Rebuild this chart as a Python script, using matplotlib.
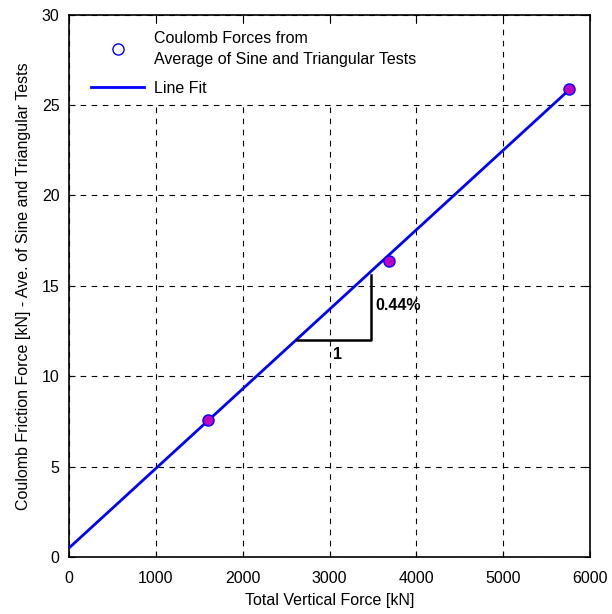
import numpy as np
import matplotlib.pyplot as plt
from matplotlib.lines import Line2D

plt.rcParams['font.family'] = ['Liberation Sans', 'DejaVu Sans']
plt.rcParams['font.size'] = 11.5

# data
vert_force = [1600, 3690, 5760]
coulomb = [7.6, 16.35, 25.9]
fit_slope = 0.0044
fit_icpt = 0.5
fit_x = [0, 5760]

fig = plt.figure(figsize=(6.12, 6.14), dpi=100)
ax = fig.add_axes([0.113, 0.093, 0.851, 0.883])

fx = np.array(fit_x)
ax.plot(fx, fit_icpt + fit_slope * fx, color='blue', lw=2, zorder=3)
ax.plot(vert_force, coulomb, 'o', ms=8, mfc='#c000c0', mec='blue', mew=1, zorder=4)

# slope triangle
ax.plot([2620, 3475, 3475], [12, 12, 15.6], color='black', lw=1.8, zorder=3)
ax.text(3090, 11.2, '1', fontsize=11.5, fontweight='bold', ha='center', va='center')
ax.text(3530, 13.9, '0.44%', fontsize=11.5, fontweight='bold', ha='left', va='center')

ax.set_xlim(0, 6000)
ax.set_ylim(0, 30)
ax.set_xticks(range(0, 6001, 1000))
ax.set_yticks(range(0, 31, 5))
ax.grid(True, color='black', linestyle=(0, (5, 5)), lw=0.8)
ax.tick_params(direction='in', length=4, top=True, right=True, pad=7)
ax.tick_params(axis='x', pad=10)
for s in ax.spines.values():
    s.set_linewidth(1.2)

ax.set_xlabel('Total Vertical Force [kN]', labelpad=5)
ax.set_ylabel('Coulomb Friction Force [kN] - Ave. of Sine and Triangular Tests', labelpad=8)

handles = [Line2D([], [], ls='none', marker='o', ms=8, mfc='none', mec='blue'),
           Line2D([], [], color='blue', lw=2)]
labels = ['Coulomb Forces from\nAverage of Sine and Triangular Tests', 'Line Fit']
leg = ax.legend(handles, labels, loc='upper left', bbox_to_anchor=(0.012, 1.0),
                frameon=True, fancybox=False, edgecolor='white', framealpha=1,
                borderaxespad=0.6, handlelength=3.3, labelspacing=0.85, handletextpad=0.6)
for t in leg.get_texts():
    t.set_linespacing(1.55)

fig.savefig('out.png', dpi=100)
